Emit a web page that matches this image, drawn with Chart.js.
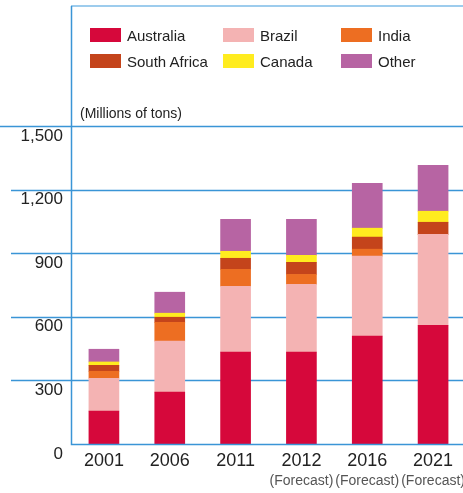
<!DOCTYPE html>
<html>
<head>
<meta charset="utf-8">
<script src="https://cdn.jsdelivr.net/npm/chart.js@4/dist/chart.umd.min.js"></script>
<style>
  html, body { margin: 0; padding: 0; background: #fff; overflow: hidden; }
  #wrap { position: relative; width: 463px; height: 493px; overflow: hidden; font-family: "Liberation Sans", Arial, Helvetica, sans-serif; color: #222; }
  canvas { position: absolute; left: 0; top: 0; }
  .lg { position: absolute; height: 14px; display: flex; align-items: center; font-size: 15px; white-space: nowrap; }
  .lg span.box { display: inline-block; width: 31px; height: 14px; margin-right: 6px; }
  #unit { position: absolute; left: 80px; top: 104px; font-size: 14px; line-height: 18px; }
</style>
</head>
<body>
<div id="wrap">
  <canvas id="c" width="466" height="493"></canvas>
  <div id="unit">(Millions of tons)</div>
</div>
<script>
const categories = ['2001', '2006', '2011', '2012', '2016', '2021'];
const notes = ['', '', '', '(Forecast)', '(Forecast)', '(Forecast)'];
const yTickLabels = ['0', '300', '600', '900', '1,200', '1,500'];

const australia   = [155, 245, 433, 433, 509, 560];
const brazil      = [155, 240, 311, 320, 377, 429];
const india       = [33, 89, 80, 47, 33, 0];
const southAfrica = [28, 24, 52, 57, 57, 57];
const canada      = [16, 19, 33, 33, 42, 52];
const other       = [60, 99, 151, 170, 212, 217];

const seriesNames  = ['Australia', 'Brazil', 'India', 'South Africa', 'Canada', 'Other'];
const seriesData   = [australia, brazil, india, southAfrica, canada, other];
const seriesColors = ['#d6083b', '#f4b3b3', '#ed6e22', '#c4441b', '#ffec1f', '#b764a3'];

// HTML legend (3 columns x 2 rows)
const legendX = [90, 223, 341];
const legendY = [28, 54];
const wrap = document.getElementById('wrap');
seriesNames.forEach((n, i) => {
  const d = document.createElement('div');
  d.className = 'lg';
  d.style.left = legendX[i % 3] + 'px';
  d.style.top = legendY[Math.floor(i / 3)] + 'px';
  d.innerHTML = '<span class="box" style="background:' + seriesColors[i] + '"></span>' + n;
  wrap.appendChild(d);
});

const FONT = '"Liberation Sans", Arial, Helvetica, sans-serif';
const BLUE = '#3a95d6';

const framePlugin = {
  id: 'frame',
  beforeDatasetsDraw(chart) {
    const ctx = chart.ctx, y = chart.scales.y, a = chart.chartArea;
    ctx.save();
    ctx.strokeStyle = BLUE;
    ctx.lineWidth = 1.3;
    y.ticks.forEach((t, i) => {
      if (t.value === 0) return;
      const py = Math.round(y.getPixelForValue(t.value)) + 0.5;
      ctx.beginPath();
      ctx.moveTo(i === y.ticks.length - 1 ? 0 : 11, py);
      ctx.lineTo(a.right, py);
      ctx.stroke();
    });
    // top frame line
    ctx.strokeStyle = '#7cbbe7';
    ctx.beginPath();
    ctx.moveTo(a.left, 6);
    ctx.lineTo(a.right, 6);
    ctx.stroke();
    ctx.restore();
  },
  afterDatasetsDraw(chart) {
    const ctx = chart.ctx, x = chart.scales.x, y = chart.scales.y, a = chart.chartArea;
    ctx.save();
    ctx.strokeStyle = BLUE;
    ctx.lineWidth = 1.5;
    const lx = Math.round(a.left) + 0.5;
    const by = Math.round(y.getPixelForValue(0)) + 0.5;
    ctx.beginPath();
    ctx.moveTo(lx, 6);
    ctx.lineTo(lx, by);
    ctx.lineTo(a.right, by);
    ctx.stroke();
    ctx.fillStyle = '#555';
    ctx.font = '14px ' + FONT;
    ctx.textAlign = 'center';
    ctx.textBaseline = 'middle';
    notes.forEach((n, i) => {
      if (n) ctx.fillText(n, x.getPixelForValue(i), 481);
    });
    ctx.restore();
  }
};

new Chart(document.getElementById('c'), {
  type: 'bar',
  data: {
    labels: categories,
    datasets: seriesNames.map((n, i) => ({
      label: n,
      data: seriesData[i],
      backgroundColor: seriesColors[i],
      borderWidth: 0,
      barThickness: 30
    }))
  },
  options: {
    responsive: false,
    animation: false,
    devicePixelRatio: 1,
    layout: { padding: { top: 126, left: 0, right: 0, bottom: 0 } },
    plugins: { legend: { display: false }, tooltip: { enabled: false } },
    scales: {
      x: {
        stacked: true,
        grid: { display: false, drawTicks: false },
        border: { display: false },
        ticks: { color: '#222', font: { family: FONT, size: 18 }, padding: 6, maxRotation: 0 },
        afterFit(s) { s.height = 49; }
      },
      y: {
        stacked: true,
        min: 0, max: 1500,
        grid: { display: false, drawTicks: false },
        border: { display: false },
        ticks: {
          stepSize: 300,
          color: '#222',
          font: { family: FONT, size: 17 },
          padding: 8,
          labelOffset: 10,
          callback: (v, i) => yTickLabels[i]
        },
        afterFit(s) { s.width = 71; }
      }
    }
  },
  plugins: [framePlugin]
});
</script>
</body>
</html>
